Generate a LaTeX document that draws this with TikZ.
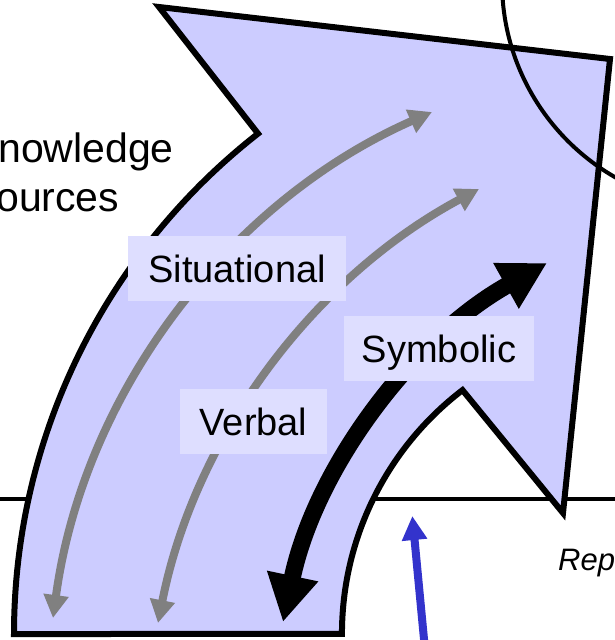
\documentclass[tikz,border=0pt]{standalone}
\usepackage{fontspec}
\setmainfont{Liberation Sans}
\usetikzlibrary{arrows.meta}
\definecolor{arrowfill}{RGB}{204,204,255}
\definecolor{labfill}{RGB}{222,222,255}
\definecolor{arrowgray}{RGB}{128,128,128}
\definecolor{arrowblue}{RGB}{51,51,204}
\begin{document}
\begin{tikzpicture}[x=1pt,y=-1pt,
  bigarrow/.style={draw=black, line width=6pt, fill=arrowfill, line join=miter},
  thinline/.style={draw=black, line width=4pt},
  graycurve/.style={draw=arrowgray, line width=8pt,
    {Triangle[length=23pt,width=24pt]}-{Triangle[length=23pt,width=24pt]}},
  blackcurve/.style={draw=black, line width=17pt,
    {Triangle[length=47pt,width=49pt]}-{Triangle[length=47pt,width=49pt]}},
  bluearrow/.style={draw=arrowblue, line width=8pt, -{Triangle[length=24pt,width=24pt]}},
  labelbox/.style={fill=labfill, inner xsep=0pt, inner ysep=18.5pt,
    text height=28pt, text depth=0pt, font=\fontsize{38}{46}\selectfont},
  bigtext/.style={anchor=base east, inner sep=0pt, font=\fontsize{41}{49}\selectfont},
  reptext/.style={anchor=base west, inner sep=0pt, font=\fontsize{31}{37}\selectfont\itshape}
]
\useasboundingbox (0,0) rectangle (615,640);
\clip (0,0) rectangle (615,640);

% horizontal rule behind the arrow
\coordinate (hlL) at (-10,499);
\coordinate (hlR) at (625,499);
\draw[thinline] (hlL) -- (hlR);

% big curved arrow shape
\draw[bigarrow] (14,634) arc[start angle=180, end angle=232, radius=635]
  -- (159,7) -- (610,59) -- (563,513) -- (462.5,390.1)
  arc[start angle=232.6, end angle=180, radius=307] -- cycle;

% circle at top right
\coordinate (circC) at (727,-18);
\draw[thinline] (circC) circle[radius=225];

% gray arrows
\coordinate (sitTop) at (432,112);
\coordinate (sitBot) at (53,618);
\coordinate (verTop) at (479,189);
\coordinate (verBot) at (158,623);
\draw[graycurve] (sitTop) .. controls (226,203) and (83,395.5) .. (sitBot);
\draw[graycurve] (verTop) .. controls (311.8,278.7) and (194.5,438) .. (verBot);

% black arrow
\coordinate (symTop) at (547,263);
\coordinate (symBot) at (283,622);
\draw[blackcurve] (symTop) .. controls (411.2,338.9) and (314.9,469.7) .. (symBot);

% label boxes
\node[labelbox, minimum width=218pt] (situational) at (237,268.5) {Situational};
\node[labelbox, minimum width=190pt] (symbolic) at (439,348.5) {Symbolic};
\node[labelbox, minimum width=147pt] (verbal) at (253.5,421.5) {Verbal};

% blue arrow
\coordinate (blueBot) at (425.5,655);
\coordinate (blueTop) at (412.3,516);
\draw[bluearrow] (blueBot) -- (blueTop);

% texts
\node[bigtext] (knowledge) at (174,162) {Knowledge};
\node[bigtext] (sources) at (119.5,211) {sources};
\node[reptext] (rep) at (558,570) {Representation};
\end{tikzpicture}
\end{document}
